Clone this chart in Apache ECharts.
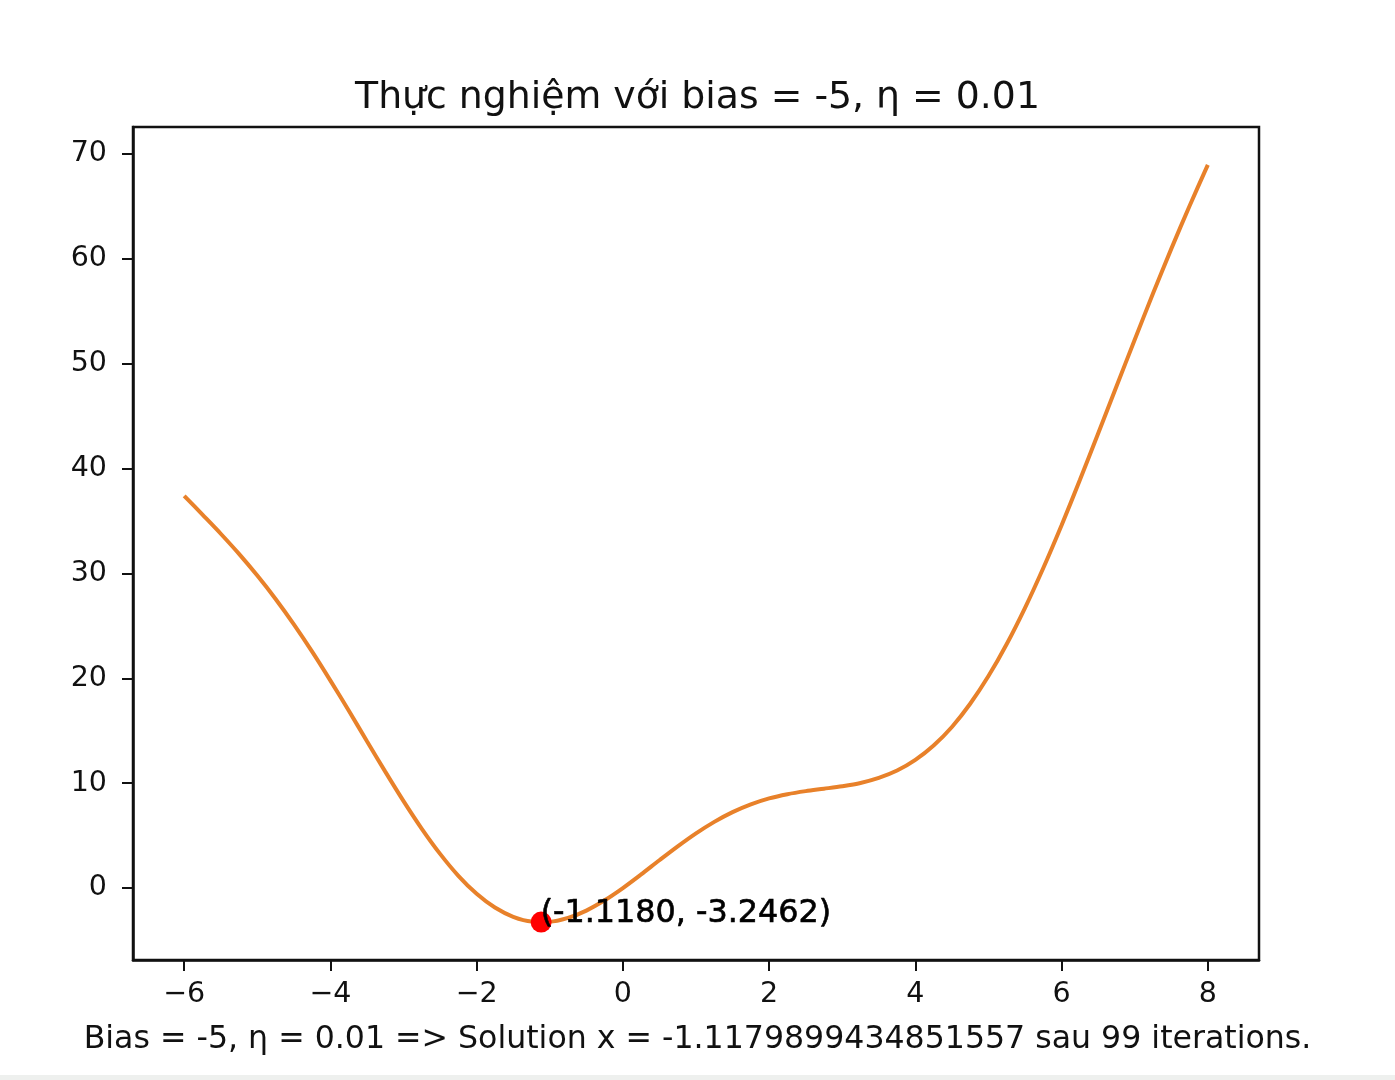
<!DOCTYPE html>
<html>
<head>
<meta charset="utf-8">
<script src="https://cdn.jsdelivr.net/npm/echarts@6/dist/echarts.min.js"></script>
<style>
  html, body { margin: 0; padding: 0; background: #fff; }
  #chart { width: 1395px; height: 1080px; }
</style>
</head>
<body>
<div id="chart"></div>
<script>
// values
const xs = [-6, -5.75, -5.5, -5.25, -5, -4.75, -4.5, -4.25, -4, -3.75, -3.5, -3.25, -3, -2.75, -2.5, -2.25,
  -2, -1.75, -1.5, -1.25, -1, -0.75, -0.5, -0.25, 0, 0.25, 0.5, 0.75, 1, 1.25, 1.5, 1.75,
  2, 2.25, 2.5, 2.75, 3, 3.25, 3.5, 3.75, 4, 4.25, 4.5, 4.75, 5, 5.25, 5.5, 5.75,
  6, 6.25, 6.5, 6.75, 7, 7.25, 7.5, 7.75, 8];
const ys = [37.40, 35.60, 33.78, 31.86, 29.79, 27.56, 25.14, 22.54, 19.78, 16.92, 14.00, 11.10, 8.29, 5.65, 3.26, 1.17,
  -0.55, -1.86, -2.74, -3.18, -3.21, -2.85, -2.15, -1.17, 0, 1.30, 2.65, 3.97, 5.21, 6.31, 7.24, 7.98,
  8.55, 8.95, 9.24, 9.47, 9.71, 10.02, 10.50, 11.20, 12.22, 13.59, 15.36, 17.57, 20.21, 23.27, 26.72, 30.52,
  34.60, 38.90, 43.33, 47.81, 52.28, 56.68, 60.94, 65.03, 68.95];
const solution = [-1.1180, -3.2462];
const xTicks = [-6, -4, -2, 0, 2, 4, 6, 8];
const yTicks = [0, 10, 20, 30, 40, 50, 60, 70];

const chart = echarts.init(document.getElementById('chart'));
const font = 'DejaVu Sans';

chart.setOption({
  backgroundColor: '#ffffff',
  animation: false,
  title: {
    text: 'Thực nghiệm với bias = -5, η = 0.01',
    left: 'center',
    top: 74,
    textStyle: { fontFamily: font, fontSize: 37.8, fontWeight: 'normal', color: '#111' }
  },
  grid: {
    left: 133, right: 136, top: 127, bottom: 120,
    show: true, borderColor: '#111', borderWidth: 2.5, backgroundColor: '#fff'
  },
  xAxis: {
    type: 'value',
    min: -6.7, max: 8.7,
    splitLine: { show: false },
    axisLine: { show: true, onZero: false, lineStyle: { color: '#111', width: 2.5 } },
    axisTick: { show: true, length: 11, lineStyle: { color: '#111', width: 2 }, customValues: xTicks },
    axisLabel: {
      customValues: xTicks, margin: 20,
      fontFamily: font, fontSize: 28.5, color: '#111',
      formatter: v => (v < 0 ? '\u2212' + Math.abs(v) : String(v))
    }
  },
  yAxis: {
    type: 'value',
    min: -6.86, max: 72.56,
    splitLine: { show: false },
    axisLine: { show: true, onZero: false, lineStyle: { color: '#111', width: 2.5 } },
    axisTick: { show: true, length: 11, lineStyle: { color: '#111', width: 2 }, customValues: yTicks },
    axisLabel: {
      customValues: yTicks, margin: 26,
      fontFamily: font, fontSize: 28.5, color: '#111'
    }
  },
  series: [
    {
      type: 'line',
      data: xs.map((x, i) => [x, ys[i]]),
      smooth: 0.3,
      showSymbol: false,
      lineStyle: { color: '#e8812a', width: 4 },
      z: 2
    },
    {
      type: 'scatter',
      data: [solution],
      symbolSize: 21,
      itemStyle: { color: '#ff0000', opacity: 1 },
      label: {
        show: true,
        position: [10, 18],
        align: 'left',
        verticalAlign: 'bottom',
        fontFamily: font, fontSize: 31.8, color: '#000',
        textBorderColor: '#000', textBorderWidth: 0.6,
        formatter: '(' + solution[0].toFixed(4) + ', ' + solution[1].toFixed(4) + ')'
      },
      z: 3
    }
  ],
  graphic: [
    {
      type: 'text',
      left: 'center',
      top: 1024,
      style: {
        text: 'Bias = -5, η = 0.01 => Solution x = -1.1179899434851557 sau 99 iterations.',
        font: '31.6px "DejaVu Sans"',
        fill: '#111'
      }
    },
    {
      type: 'rect',
      shape: { x: 0, y: 1075, width: 1395, height: 5 },
      style: { fill: '#eef0ee' }
    }
  ]
});
</script>
</body>
</html>
